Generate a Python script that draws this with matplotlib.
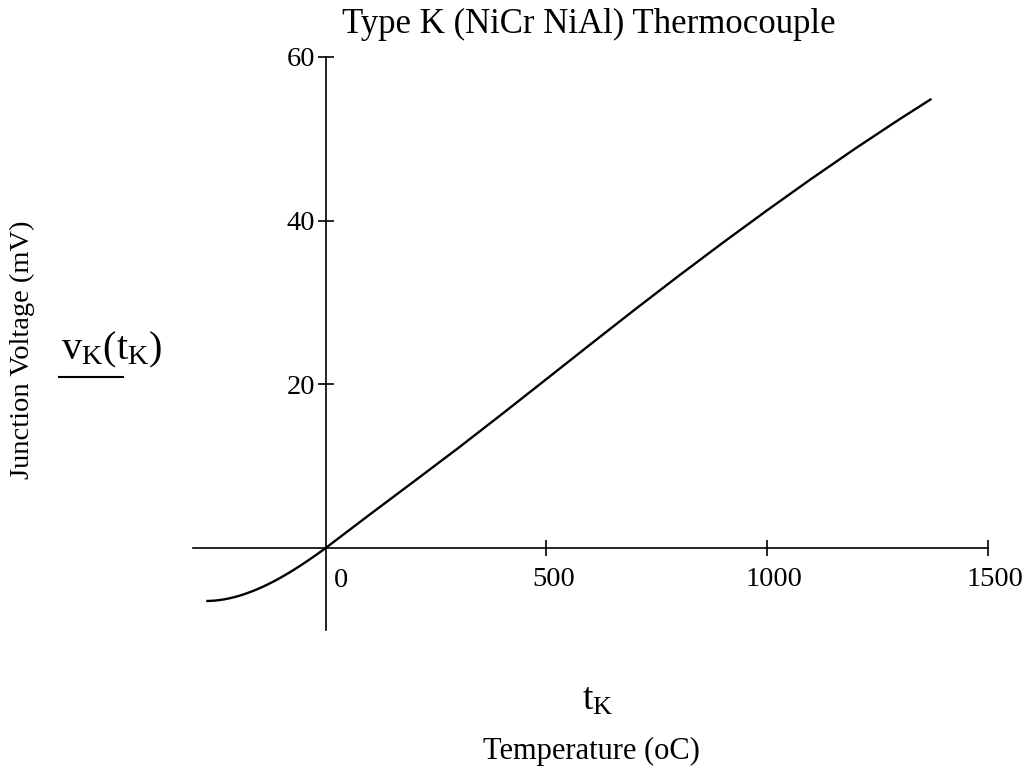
import matplotlib
matplotlib.use("Agg")
import matplotlib.pyplot as plt
import matplotlib.transforms as mtransforms

# Type K thermocouple readings
temperature_c = [-270, -260, -250, -240, -230, -220, -210, -200, -190, -180,
                 -170, -160, -150, -140, -130, -120, -110, -100, -90, -80,
                 -70, -60, -50, -40, -30, -20, -10, 0, 100, 200, 300, 400,
                 500, 600, 700, 800, 900, 1000, 1100, 1200, 1300, 1372]
voltage_mv = [-6.458, -6.441, -6.404, -6.344, -6.262, -6.158, -6.035, -5.891,
              -5.730, -5.550, -5.354, -5.141, -4.913, -4.669, -4.411, -4.138,
              -3.852, -3.554, -3.243, -2.920, -2.587, -2.243, -1.889, -1.527,
              -1.156, -0.778, -0.392, 0.0, 4.096, 8.138, 12.209, 16.397,
              20.644, 24.905, 29.129, 33.275, 37.326, 41.276, 45.119, 48.838,
              52.410, 54.886]

x_ticks = [500, 1000, 1500]
x_tick_labels = ["500", "1000", "1500"]
y_ticks = [20, 40, 60]
y_tick_labels = ["20", "40", "60"]

title = "Type K (NiCr NiAl) Thermocouple"
x_label = "Temperature (oC)"
y_label = "Junction Voltage (mV)"

plt.rcParams["font.family"] = ["Liberation Serif", "DejaVu Serif"]
plt.rcParams["mathtext.fontset"] = "custom"
plt.rcParams["mathtext.rm"] = "Liberation Serif"
plt.rcParams["mathtext.it"] = "Liberation Serif"

W, H = 1029, 775
fig = plt.figure(figsize=(W / 100, H / 100), dpi=100)
x0, x1 = 193, 988
y0, y1 = 630, 57
ax = fig.add_axes([x0 / W, 1 - y0 / H, (x1 - x0) / W, (y0 - y1) / H])
ax.set_xlim(-300, 1500)
ax.set_ylim(-10, 60)

ax.plot(temperature_c, voltage_mv, color="black", lw=1.7,
        solid_capstyle="butt", solid_joinstyle="round")

for s in ["top", "right"]:
    ax.spines[s].set_visible(False)
ax.spines["left"].set_position(("data", 0))
ax.spines["bottom"].set_position(("data", 0))
for s in ["left", "bottom"]:
    ax.spines[s].set_linewidth(1.2)
    ax.spines[s].set_color("black")

ax.set_xticks(x_ticks)
ax.set_xticklabels(x_tick_labels)
ax.set_yticks(y_ticks)
ax.set_yticklabels(y_tick_labels)
ax.tick_params(axis="both", direction="inout", length=11, width=1.2,
               labelsize=20.5, colors="black")
ax.tick_params(axis="x", pad=8)
ax.tick_params(axis="y", pad=2)

shift = mtransforms.ScaledTranslation(7 / 100, 0, fig.dpi_scale_trans)
for lbl in ax.get_xticklabels():
    lbl.set_transform(lbl.get_transform() + shift)

# zero label near origin
ax.annotate("0", xy=(0, 0), xytext=(6, -14), textcoords="offset points",
            ha="left", va="top", fontsize=20.5)

fig.text(589 / W, 1 - 24 / H, title, ha="center", va="center", fontsize=25)
fig.text(22 / W, 1 - 350 / H, y_label, ha="center", va="center",
         rotation=90, fontsize=20.5)
fig.text(61 / W, 1 - 350 / H, r"$\mathrm{v_K(t_K)}$",
         ha="left", va="center", fontsize=29)
fig.add_artist(plt.Line2D([59 / W, 123 / W], [1 - 377 / H, 1 - 377 / H],
                          color="black", lw=1.5))
fig.text(598 / W, 1 - 700 / H, r"$\mathrm{t_K}$", ha="center", va="center",
         fontsize=27)
fig.text(591 / W, 1 - 751 / H, x_label, ha="center", va="center", fontsize=22)

fig.savefig("out.png", dpi=100, facecolor="white")
